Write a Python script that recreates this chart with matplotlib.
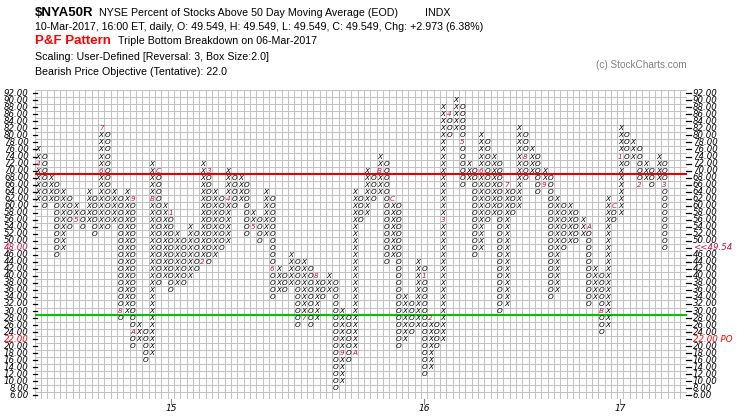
import matplotlib
matplotlib.use('Agg')
import matplotlib.pyplot as plt
import matplotlib.transforms as mtransforms

W, H = 745, 419

# P&F columns (alternating X / O, the first one is an X column), box size 2
col_low = [62, 60, 62, 46, 48, 54, 56, 54, 56, 52,
           54, 54, 56, 28, 30, 20, 22, 16, 18, 38,
           40, 36, 38, 38, 40, 42, 44, 44, 46, 48,
           50, 60, 62, 52, 54, 50, 52, 34, 36, 36,
           38, 26, 28, 26, 28, 34, 36, 8, 10, 16,
           18, 56, 58, 62, 64, 44, 46, 20, 22, 24,
           26, 12, 14, 20, 22, 80, 82, 66, 68, 46,
           48, 56, 58, 30, 32, 58, 60, 68, 70, 64,
           66, 34, 36, 48, 50, 50, 52, 32, 34, 24,
           26, 56, 58, 72, 74, 66, 68, 66, 68, 48]
col_high = [76, 74, 68, 66, 64, 62, 60, 58, 64, 62,
            82, 80, 64, 62, 64, 62, 26, 24, 72, 70,
            60, 58, 52, 50, 54, 52, 72, 70, 64, 62,
            70, 68, 68, 66, 58, 56, 64, 62, 42, 40,
            46, 44, 44, 42, 40, 38, 40, 38, 30, 28,
            64, 62, 70, 68, 74, 72, 62, 60, 34, 32,
            44, 42, 28, 26, 88, 86, 90, 88, 72, 70,
            80, 78, 74, 72, 66, 64, 82, 80, 76, 74,
            70, 68, 62, 60, 60, 58, 56, 54, 42, 40,
            62, 60, 82, 80, 78, 76, 72, 70, 74, 72]
box = 2

# month markers (column, box, text)
marker_col = [0, 6, 10, 10, 13, 15, 15, 18, 19, 21, 26, 27, 30, 34, 37, 42, 44, 48,
              50, 54, 56, 61, 62, 64, 65, 67, 70, 74, 77, 80, 87, 89, 91, 92, 95, 99]
marker_row = [72, 56, 70, 82, 30, 62, 24, 62, 70, 58, 44, 70, 62, 54, 42, 28, 40, 18,
              18, 70, 62, 40, 28, 56, 86, 78, 70, 66, 74, 66, 54, 30, 60, 74, 66, 66]
marker_txt = ['4', '5', '6', '7', '8', '9', 'A', 'B', 'C', '1', '2', '3', '4', '5', '6', '7', '8', '9',
              'A', 'B', 'C', '1', '2', '3', '4', '5', '6', '7', '8', '9', 'A', 'B', 'C', '1', '2', '3']

y_levels = list(range(92, 5, -2))
year_col = [21, 61, 92]
year_txt = ['15', '16', '17']

overbought = 69
oversold = 29
last_box = 48
last_price = '<<49.54'
objective = 22

n_cols = 103
x0, x1, y0, y1 = 34.8, 686.8, 89.8, 398.8

fig = plt.figure(figsize=(W / 100, H / 100), dpi=100)
fig.patch.set_facecolor('white')
ax = fig.add_axes([x0 / W, 1 - y1 / H, (x1 - x0) / W, (y1 - y0) / H])
ax.set_xlim(-0.5, n_cols - 0.5)
ax.set_ylim(5, 93)
ax.set_axis_off()

grid_c = '#c2c2c2'
ax.vlines([i - 0.5 for i in range(n_cols + 1)], 5, 93, colors=grid_c, lw=0.75, zorder=1)
ax.hlines([5 + box * k for k in range(45)], -0.5, n_cols - 0.5, colors=grid_c, lw=0.75, zorder=1)

ax.axhline(overbought, color='#e00000', lw=1.5, zorder=3)
ax.axhline(oversold, color='#00c400', lw=1.5, zorder=3)

mark_color = '#cc1144'
marks = {(c, r): t for c, r, t in zip(marker_col, marker_row, marker_txt)}
sym_font = dict(family='DejaVu Sans', style='italic', fontsize=5.2, ha='center', va='center', zorder=4)
for i, (lo, hi) in enumerate(zip(col_low, col_high)):
    kind = 'X' if i % 2 == 0 else 'O'
    for v in range(lo, hi + 1, box):
        if (i, v) in marks:
            ax.text(i, v, marks[(i, v)], color=mark_color, **sym_font)
        else:
            ax.text(i, v, kind, color='black', **sym_font)

# price scale, both sides
ytr = mtransforms.blended_transform_factory(ax.transAxes, ax.transData)
lab_font = dict(family='DejaVu Sans', style='italic', fontsize=6.2, va='center')
dl = 4.0 / (x1 - x0)
for v in y_levels:
    ax.plot([-dl * 0.5, dl * 0.5], [v, v], color='black', lw=0.9, transform=ytr, clip_on=False)
    ax.plot([1 - dl * 0.2, 1 + dl], [v, v], color='black', lw=0.9, transform=ytr, clip_on=False)
    lc = 'black'
    if v == last_box:
        lc = mark_color
    elif v == objective:
        lc = '#ff0000'
    ax.text(-6.0 / (x1 - x0), v, '%.2f' % v, color=lc, ha='right', transform=ytr, **lab_font)
    rt, rc = '%.2f' % v, 'black'
    if v == last_box:
        rt, rc = last_price, mark_color
    elif v == objective:
        rt, rc = '%.2f PO' % v, '#ff0000'
    ax.text(1 + 6.0 / (x1 - x0), v, rt, color=rc, ha='left', transform=ytr, **lab_font)

xtr = mtransforms.blended_transform_factory(ax.transData, ax.transAxes)
for c, t in zip(year_col, year_txt):
    ax.plot([c, c], [0, -5.0 / (y1 - y0)], color='#888888', lw=0.8, transform=xtr, clip_on=False)
    ax.text(c, -9.5 / (y1 - y0), t, ha='center', va='center', transform=xtr,
            family='DejaVu Sans', style='italic', fontsize=6.5)

# header
def px(x, y):
    return x / W, 1 - y / H

hf = 'Liberation Sans'
fs = 7.7
fig.text(*px(35, 12.5), '$NYA50R', family=hf, weight='bold', fontsize=9.5, va='center')
fig.text(*px(99, 12.5), 'NYSE Percent of Stocks Above 50 Day Moving Average (EOD)', family=hf, fontsize=fs, va='center')
fig.text(*px(425, 12.5), 'INDX', family=hf, fontsize=fs, va='center')
fig.text(*px(35, 27), '10-Mar-2017, 16:00 ET, daily, O: 49.549, H: 49.549, L: 49.549, C: 49.549, Chg: +2.973 (6.38%)',
         family=hf, fontsize=fs, va='center')
fig.text(*px(35, 41.5), 'P&F Pattern', family=hf, weight='bold', fontsize=9.5, color='#ff0000', va='center')
fig.text(*px(118, 41.5), 'Triple Bottom Breakdown on 06-Mar-2017', family=hf, fontsize=fs, va='center')
fig.text(*px(35, 56.5), 'Scaling: User-Defined [Reversal: 3, Box Size:2.0]', family=hf, fontsize=fs, va='center')
fig.text(*px(35, 71.5), 'Bearish Price Objective (Tentative): 22.0', family=hf, fontsize=fs, va='center')
fig.text(*px(596, 65), '(c) StockCharts.com', family=hf, fontsize=7.2, color='#808080', va='center')

fig.savefig('out.png', dpi=100)
